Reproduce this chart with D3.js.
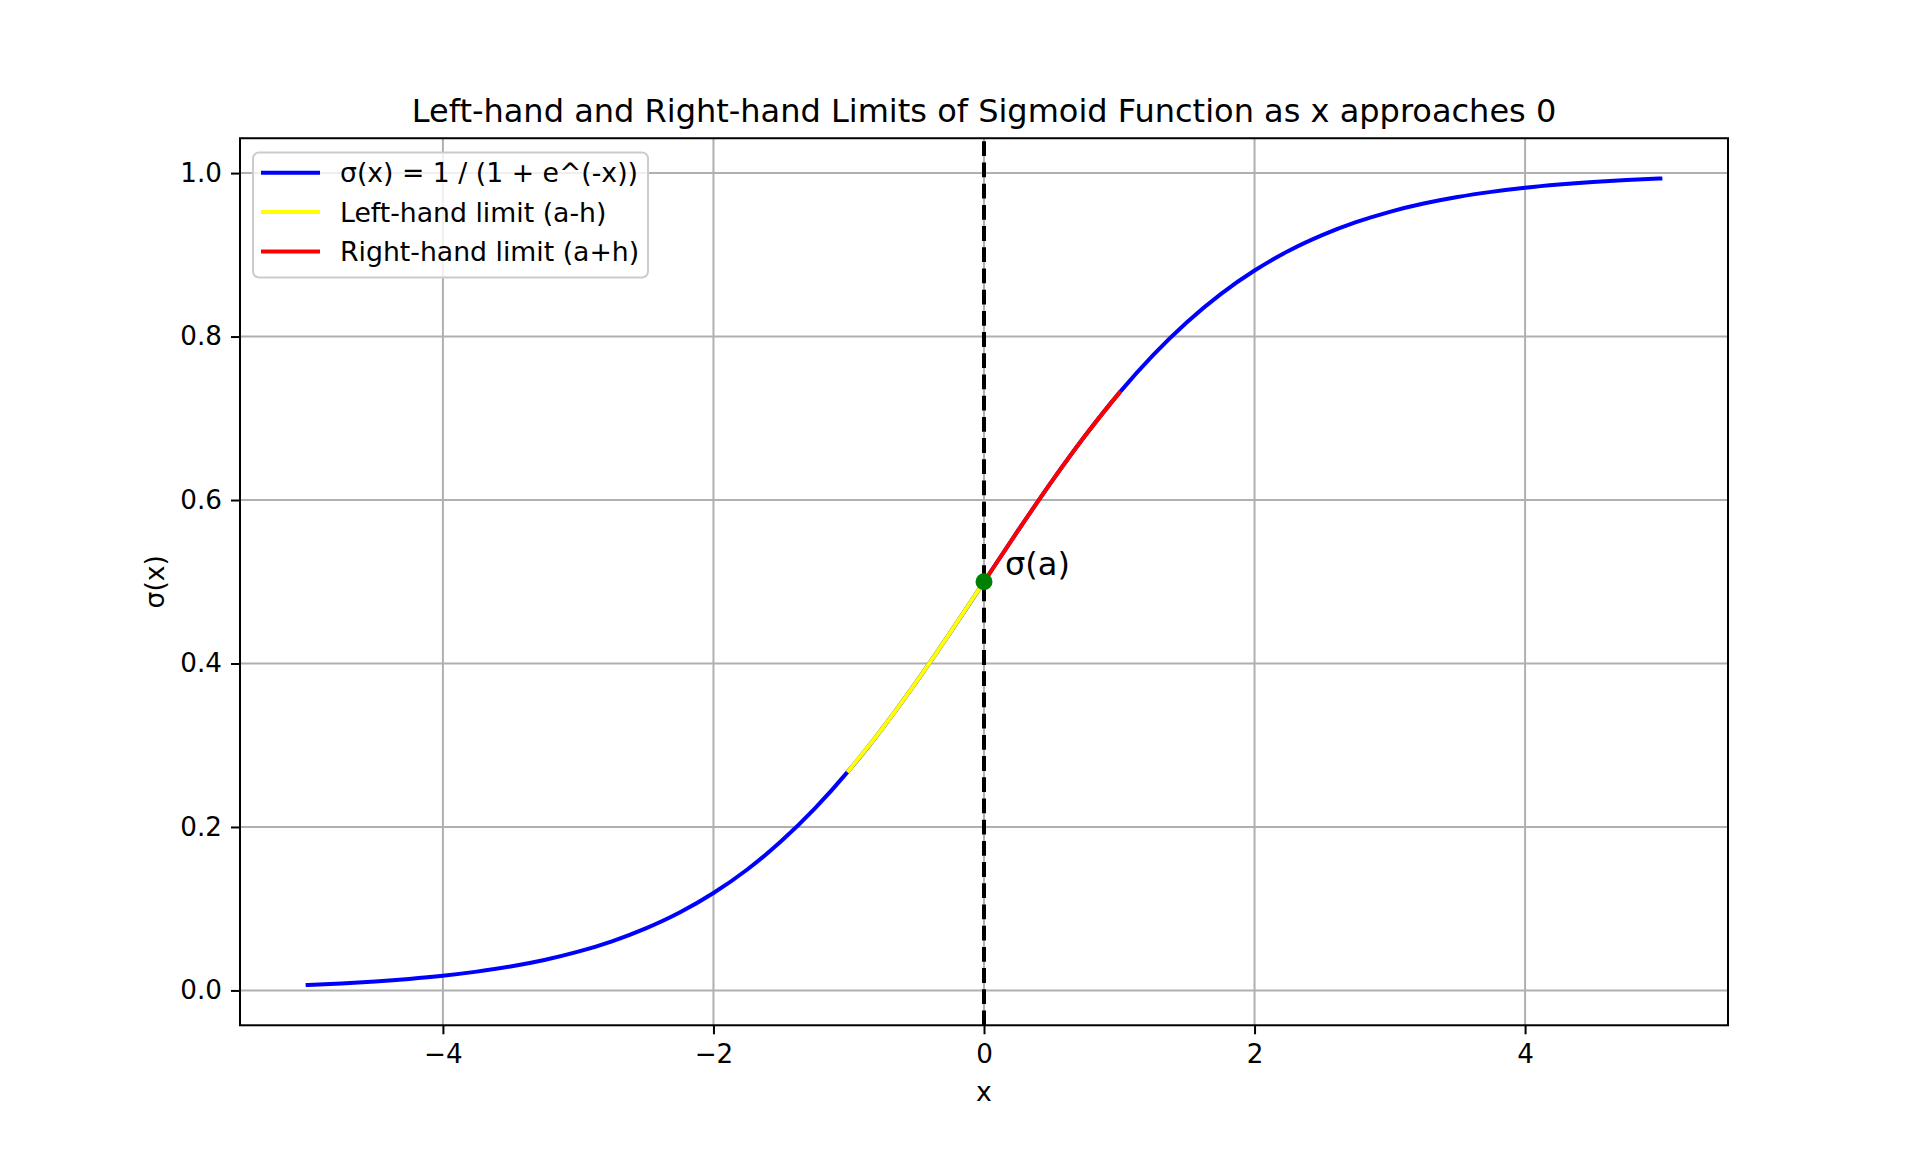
<!DOCTYPE html>
<html>
<head>
<meta charset="utf-8">
<script src="https://cdn.jsdelivr.net/npm/d3@7"></script>
<style>
  html, body { margin: 0; padding: 0; background: #ffffff; }
  svg { display: block; }
  text { font-family: "DejaVu Sans", sans-serif; fill: #000; }
</style>
</head>
<body>
<svg id="chart" width="1920" height="1152"></svg>
<script>
// ---- Data ----
const sigmoidX = [-5, -4.75, -4.5, -4.25, -4, -3.75, -3.5, -3.25, -3, -2.75, -2.5, -2.25, -2, -1.75, -1.5, -1.25, -1, -0.75, -0.5, -0.25, 0,
                  0.25, 0.5, 0.75, 1, 1.25, 1.5, 1.75, 2, 2.25, 2.5, 2.75, 3, 3.25, 3.5, 3.75, 4, 4.25, 4.5, 4.75, 5];
const sigmoidY = [0.0067, 0.0086, 0.0110, 0.0141, 0.0180, 0.0230, 0.0293, 0.0373, 0.0474, 0.0601, 0.0759, 0.0953, 0.1192, 0.1480, 0.1824, 0.2227, 0.2689, 0.3208, 0.3775, 0.4378, 0.5,
                  0.5622, 0.6225, 0.6792, 0.7311, 0.7773, 0.8176, 0.8520, 0.8808, 0.9047, 0.9241, 0.9399, 0.9526, 0.9627, 0.9707, 0.9770, 0.9820, 0.9859, 0.9890, 0.9914, 0.9933];
const leftX = [-1, -0.75, -0.5, -0.25, 0];
const leftY = [0.2689, 0.3208, 0.3775, 0.4378, 0.5];
const rightX = [0, 0.25, 0.5, 0.75, 1];
const rightY = [0.5, 0.5622, 0.6225, 0.6792, 0.7311];
const pointA = [0, 0.5];
const xTicks = [-4, -2, 0, 2, 4];
const yTicks = [0.0, 0.2, 0.4, 0.6, 0.8, 1.0];
const legendLabels = ["σ(x) = 1 / (1 + e^(-x))", "Left-hand limit (a-h)", "Right-hand limit (a+h)"];
const seriesColors = ["#0000ff", "#ffff00", "#ff0000"];
const titleText = "Left-hand and Right-hand Limits of Sigmoid Function as x approaches 0";

// ---- Layout ----
const W = 1920, H = 1152;
const L = 240, R = 1728, T = 138.24, B = 1025.28;
const svg = d3.select("#chart");

const xmin = d3.min(sigmoidX), xmax = d3.max(sigmoidX);
const ymin = d3.min(sigmoidY), ymax = d3.max(sigmoidY);
const xm = (xmax - xmin) * 0.05, ym = (ymax - ymin) * 0.05;
const x = d3.scaleLinear().domain([xmin - xm, xmax + xm]).range([L, R]);
const y = d3.scaleLinear().domain([ymin - ym, ymax + ym]).range([B, T]);

// grid
const grid = svg.append("g");
xTicks.forEach(t => grid.append("line")
  .attr("x1", x(t)).attr("x2", x(t)).attr("y1", T).attr("y2", B)
  .attr("stroke", "#b0b0b0").attr("stroke-width", 2));
yTicks.forEach(t => grid.append("line")
  .attr("x1", L).attr("x2", R).attr("y1", y(t)).attr("y2", y(t))
  .attr("stroke", "#b0b0b0").attr("stroke-width", 2));

// clip
svg.append("clipPath").attr("id", "clip").append("rect")
  .attr("x", L).attr("y", T).attr("width", R - L).attr("height", B - T);
const plot = svg.append("g").attr("clip-path", "url(#clip)");

const line = d3.line().x(d => x(d[0])).y(d => y(d[1])).curve(d3.curveMonotoneX);
const series = [
  d3.zip(sigmoidX, sigmoidY),
  d3.zip(leftX, leftY),
  d3.zip(rightX, rightY)
];
series.forEach((s, i) => plot.append("path")
  .attr("d", line(s))
  .attr("fill", "none")
  .attr("stroke", seriesColors[i])
  .attr("stroke-width", 4)
  .attr("stroke-linecap", "square")
  .attr("stroke-linejoin", "round"));

// vertical dashed line at x = 0 (drawn bottom to top)
plot.append("line")
  .attr("x1", x(0)).attr("x2", x(0)).attr("y1", B).attr("y2", T)
  .attr("stroke", "#000").attr("stroke-width", 4)
  .attr("stroke-dasharray", "14.8,6.4");

// point
plot.append("circle")
  .attr("cx", x(pointA[0])).attr("cy", y(pointA[1])).attr("r", 8.5)
  .attr("fill", "#008000");

svg.append("text")
  .attr("x", x(pointA[0]) + 21).attr("y", y(pointA[1]) - 7)
  .attr("font-size", 32)
  .text("σ(a)");

// spines
svg.append("rect").attr("x", L).attr("y", T).attr("width", R - L).attr("height", B - T)
  .attr("fill", "none").attr("stroke", "#000").attr("stroke-width", 2);

// x axis
const xAxis = d3.axisBottom(x).tickValues(xTicks).tickSize(9).tickPadding(10)
  .tickFormat(d => (d < 0 ? "\u2212" : "") + Math.abs(d));
const gx = svg.append("g").attr("transform", `translate(0,${B})`).call(xAxis);
gx.select(".domain").remove();
gx.selectAll(".tick line").attr("stroke", "#000").attr("stroke-width", 2);
gx.selectAll(".tick text").attr("font-size", 26.2).attr("font-family", "DejaVu Sans").attr("fill", "#000");

// y axis
const yAxis = d3.axisLeft(y).tickValues(yTicks).tickSize(9).tickPadding(9)
  .tickFormat(d3.format(".1f"));
const gy = svg.append("g").attr("transform", `translate(${L},0)`).call(yAxis);
gy.select(".domain").remove();
gy.selectAll(".tick line").attr("stroke", "#000").attr("stroke-width", 2);
gy.selectAll(".tick text").attr("font-size", 26.2).attr("font-family", "DejaVu Sans").attr("fill", "#000");

// labels
svg.append("text").attr("x", (L + R) / 2).attr("y", 1101)
  .attr("text-anchor", "middle").attr("font-size", 26.7).text("x");
svg.append("text")
  .attr("transform", `translate(164,${(T + B) / 2}) rotate(-90)`)
  .attr("text-anchor", "middle").attr("font-size", 26.7).text("σ(x)");
svg.append("text").attr("x", (L + R) / 2).attr("y", 122)
  .attr("text-anchor", "middle").attr("font-size", 32).text(titleText);

// legend
const lg = svg.append("g");
lg.append("rect").attr("x", 253).attr("y", 152.5).attr("width", 395).attr("height", 125)
  .attr("rx", 6).attr("ry", 6)
  .attr("fill", "#ffffff").attr("fill-opacity", 0.8)
  .attr("stroke", "#cccccc").attr("stroke-width", 2);
const rowY = [172.7, 211.9, 251.6];
legendLabels.forEach((lab, i) => {
  lg.append("line").attr("x1", 263).attr("x2", 318).attr("y1", rowY[i]).attr("y2", rowY[i])
    .attr("stroke", seriesColors[i]).attr("stroke-width", 4).attr("stroke-linecap", "square");
  lg.append("text").attr("x", 340).attr("y", rowY[i] + 9.7)
    .attr("font-size", 26.7).text(lab);
});
</script>
</body>
</html>
